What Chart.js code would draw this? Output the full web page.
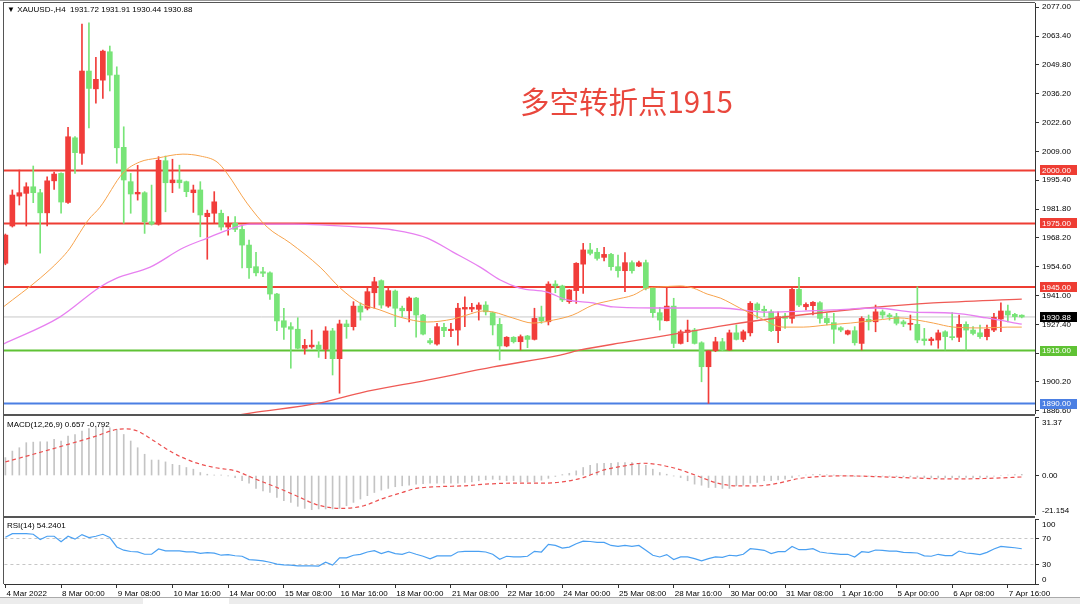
<!DOCTYPE html>
<html lang="zh">
<head>
<meta charset="UTF-8" />
<title>XAUUSD H4</title>
<script src="https://cdn.jsdelivr.net/npm/chart.js"></script>
<style>
  body { margin: 0; background: #fff; width: 1080px; height: 604px; overflow: hidden; position: relative; font-family: "Liberation Sans", Arial, sans-serif; }
  canvas { position: absolute; left: 4px; }
  #mainChart { top: 3px; }
  #macdChart { top: 417px; }
  #rsiChart { top: 519px; }
  .line { position: absolute; background: #555; z-index: 2; }
  .label { position: absolute; font-size: 8px; line-height: 10px; color: #000; white-space: pre; z-index: 3; }
  #note { position: absolute; left: 520px; top: 85px; font-size: 29.5px; line-height: 30px; font-family: "Noto Sans CJK SC", sans-serif; color: #e9473d; white-space: nowrap; }
</style>
</head>
<body>
<canvas id="mainChart" width="1076" height="411"></canvas>
<canvas id="macdChart" width="1076" height="98"></canvas>
<canvas id="rsiChart" width="1076" height="85"></canvas>

<div class="line" style="left:0;top:0;width:1080px;height:1px;background:#999"></div>
<div class="line" style="left:3px;top:2px;width:1032px;height:1px"></div>
<div class="line" style="left:3px;top:2px;width:1px;height:582px"></div>
<div class="line" style="left:3px;top:414px;width:1032px;height:2px"></div>
<div class="line" style="left:3px;top:516px;width:1032px;height:2px"></div>
<div class="line" style="left:0;top:597px;width:1080px;height:1px;background:#aaa"></div>
<div class="line" style="left:0;top:598px;width:1080px;height:6px;background:#ececec"></div>
<div class="line" style="left:143px;top:598px;width:86px;height:6px;background:#fff"></div>

<div class="label" style="left:7px;top:5px">▼ XAUUSD-,H4  1931.72 1931.91 1930.44 1930.88</div>
<div class="label" style="left:7px;top:420px">MACD(12,26,9) 0.657 -0.792</div>
<div class="label" style="left:7px;top:521px">RSI(14) 54.2401</div>
<div id="note">多空转折点1915</div>

<script>
  // H4 candles, bar 0 = 4 Mar 16:00 ... bar 146 = 8 Apr 00:00
  const candleOpen = [1956.2,1973.8,1987.9,1989.2,1992.3,1989.5,1980.0,1995.1,1998.6,1984.9,2015.4,2008.1,2046.9,2038.5,2042.6,2056.0,2045.0,2010.9,1994.7,1988.9,1989.5,1975.8,1974.7,2004.6,1994.2,1995.5,1994.7,1989.5,1990.8,1978.2,1979.8,1979.8,1973.3,1975.1,1972.2,1964.8,1954.6,1952.2,1951.7,1941.7,1929.1,1926.3,1925.1,1916.1,1916.8,1917.6,1915.6,1924.3,1911.2,1927.6,1926.3,1936.0,1935.0,1942.3,1948.0,1936.0,1943.1,1935.0,1933.8,1939.8,1931.8,1919.7,1918.1,1926.0,1924.4,1924.7,1934.6,1934.6,1934.5,1936.5,1932.9,1927.4,1917.2,1921.3,1919.2,1921.9,1920.3,1930.7,1928.6,1946.4,1945.5,1938.1,1943.3,1955.8,1962.5,1961.4,1959.0,1960.4,1954.6,1952.7,1956.5,1954.9,1956.5,1944.4,1932.9,1929.1,1936.0,1918.4,1923.6,1924.7,1918.7,1907.4,1915.0,1919.2,1915.3,1923.4,1920.3,1923.4,1937.0,1934.5,1933.3,1924.4,1931.3,1930.2,1943.9,1935.7,1936.2,1937.6,1930.2,1928.2,1925.8,1922.8,1924.4,1918.4,1929.8,1928.6,1933.3,1931.8,1931.0,1928.6,1927.4,1927.4,1920.5,1919.7,1920.0,1923.9,1921.6,1921.3,1927.4,1924.7,1923.4,1921.6,1924.7,1929.9,1933.7,1932.1,1931.72];
  const candleHigh = [1970.0,1990.8,2000.2,1994.2,2002.1,1991.1,1997.0,1999.2,1998.9,2020.3,2016.0,2069.1,2069.7,2053.4,2056.8,2058.7,2048.9,2020.6,1998.6,2002.4,1990.0,1993.1,2006.5,2006.8,2005.3,2002.5,1995.0,1993.1,1994.7,1981.3,1990.0,1981.3,1978.2,1978.2,1974.2,1967.2,1961.4,1954.3,1952.2,1942.0,1935.0,1928.2,1930.5,1920.3,1924.7,1919.2,1926.3,1925.5,1929.4,1929.4,1938.1,1937.5,1944.4,1949.6,1948.4,1944.4,1943.6,1936.0,1940.4,1940.1,1932.1,1920.8,1927.9,1927.9,1927.9,1937.3,1940.4,1937.3,1937.6,1938.1,1933.2,1930.2,1921.6,1921.6,1922.4,1922.2,1935.0,1936.0,1947.5,1948.0,1945.9,1943.8,1956.5,1965.6,1965.6,1963.3,1963.7,1960.9,1960.1,1961.2,1957.4,1957.3,1957.7,1944.6,1935.4,1945.1,1939.7,1924.7,1929.4,1925.5,1919.2,1915.0,1921.3,1920.8,1924.7,1927.1,1924.7,1938.1,1937.6,1936.0,1934.2,1933.3,1932.6,1944.4,1949.6,1937.6,1938.1,1938.1,1932.6,1932.6,1926.3,1924.7,1926.3,1931.0,1931.8,1936.5,1934.2,1932.6,1932.6,1929.4,1931.8,1945.1,1925.5,1921.3,1924.7,1924.4,1932.9,1931.8,1928.6,1926.3,1927.1,1927.1,1932.6,1937.6,1936.5,1932.6,1931.91];
  const candleLow = [1955.5,1973.3,1983.7,1973.8,1984.8,1961.0,1973.8,1991.1,1979.8,1984.5,1998.6,2002.9,2020.1,2031.7,2034.0,2037.5,2003.4,1975.1,1979.8,1986.0,1970.3,1974.2,1974.2,1980.5,1989.5,1991.6,1987.6,1980.2,1968.7,1958.1,1975.3,1971.9,1969.5,1971.1,1954.0,1949.1,1950.2,1949.9,1939.2,1924.4,1920.3,1906.7,1915.8,1913.3,1916.1,1911.8,1911.2,1903.5,1894.9,1920.8,1924.7,1929.4,1934.2,1935.0,1935.0,1935.4,1926.3,1931.0,1928.6,1921.3,1922.4,1918.1,1917.6,1921.6,1921.6,1917.6,1926.3,1933.3,1929.4,1931.8,1922.4,1910.6,1916.8,1918.6,1915.3,1916.4,1920.0,1927.9,1927.1,1942.3,1938.1,1937.3,1937.3,1942.0,1960.1,1957.7,1957.3,1953.0,1949.6,1942.8,1951.5,1954.6,1943.6,1930.7,1924.7,1929.0,1916.4,1918.1,1919.2,1918.1,1900.3,1890.1,1914.5,1915.0,1915.0,1920.0,1919.2,1921.9,1930.2,1931.0,1923.9,1918.7,1925.5,1927.9,1935.7,1934.2,1931.8,1927.9,1927.1,1918.4,1923.9,1922.4,1917.6,1915.3,1924.7,1923.9,1930.2,1929.4,1927.1,1926.3,1924.7,1918.7,1917.6,1917.6,1916.1,1915.3,1920.0,1919.2,1915.3,1922.4,1920.8,1920.0,1923.9,1923.9,1928.6,1929.4,1930.44];
  const candleClose = [1969.5,1988.4,1989.5,1992.3,1989.5,1980.0,1995.1,1998.3,1985.1,2015.9,2008.4,2046.9,2038.7,2043.0,2056.3,2045.0,2010.7,1995.5,1988.9,1989.7,1975.8,1974.7,2004.8,1994.2,1995.5,1994.2,1990.0,1990.8,1979.0,1979.8,1985.2,1973.3,1974.7,1972.2,1964.8,1954.1,1951.7,1951.5,1941.7,1929.0,1926.0,1925.1,1916.1,1917.5,1917.6,1915.6,1924.3,1911.2,1927.6,1926.3,1936.0,1933.2,1942.8,1947.5,1936.5,1943.3,1935.0,1933.8,1939.8,1931.8,1922.8,1918.7,1926.3,1924.4,1925.1,1935.0,1935.4,1935.4,1936.5,1933.3,1927.1,1917.2,1921.3,1919.2,1921.6,1920.3,1930.2,1929.0,1946.4,1945.5,1938.9,1943.6,1956.2,1962.5,1960.9,1958.5,1960.4,1954.6,1952.7,1956.5,1952.7,1956.5,1944.4,1932.9,1929.4,1936.0,1918.4,1923.9,1924.7,1918.4,1907.4,1914.8,1919.2,1915.3,1923.4,1920.3,1923.9,1937.3,1934.2,1933.8,1924.4,1931.0,1930.2,1943.9,1936.5,1936.8,1937.8,1930.2,1928.2,1925.1,1924.7,1924.4,1918.7,1930.2,1928.6,1933.3,1931.8,1931.0,1927.9,1927.6,1927.9,1920.0,1919.7,1920.5,1923.4,1921.6,1921.1,1927.4,1924.7,1923.1,1921.6,1925.1,1930.7,1933.7,1931.8,1931.0,1930.88];

  // moving averages (bar index, price)
  const maFastBars = [-0.3,5.0,7.8,9.3,10.3,11.9,13.6,16.9,19.3,21.8,25.5,28.0,30.4,31.8,34.7,37.6,40.9,45.2,48.1,50.9,53.8,56.7,60.6,64.3,66.3,68.6,70.1,72.9,75.8,78.7,81.5,84.4,87.3,90.2,92.2,94.0,96.9,98.8,100.8,102.7,105.5,108.4,111.7,114.6,118.0,121.4,125.2,128.5,131.0,133.3,136.2,140.5,143.9,146];
  const maFastVals = [1935.6,1949.2,1957.7,1963.4,1968.6,1976.6,1982.7,1998.8,2004.0,2005.8,2007.7,2006.8,2004.0,1998.8,1984.6,1973.3,1965.8,1954.4,1944.5,1937.5,1934.2,1930.8,1928.5,1929.9,1931.8,1933.7,1933.2,1930.4,1928.0,1929.4,1931.8,1936.5,1938.9,1941.2,1944.5,1945.0,1945.5,1944.5,1941.7,1939.8,1935.1,1930.4,1926.1,1926.1,1927.1,1928.0,1929.4,1930.4,1929.4,1928.0,1926.1,1925.7,1926.1,1926.1];
  const maMidBars = [-0.3,7.8,13.6,16.0,20.8,25.5,29.0,32.7,35.1,41.3,50.9,55.7,60.6,64.3,68.2,71.1,73.9,77.8,80.7,84.4,87.3,94.0,102.7,109.4,119.0,125.2,130.4,136.2,141.0,146];
  const maMidVals = [1918.1,1930.8,1945.0,1949.2,1954.4,1963.4,1968.1,1972.8,1974.7,1974.7,1973.3,1971.9,1968.1,1961.5,1954.4,1948.3,1944.5,1942.6,1938.9,1937.5,1935.6,1935.1,1935.1,1933.2,1934.2,1935.1,1933.2,1932.7,1930.4,1927.5];
  const maSlowBars = [33,35.4,45.2,50.9,60.6,70.1,79.7,82.6,89.3,98.8,102.7,114.2,123.8,133.3,146];
  const maSlowVals = [1884.4,1885.6,1890.3,1895.0,1901.1,1907.3,1912.9,1915.3,1919.1,1924.3,1926.6,1931.8,1935.1,1937.5,1939.3];

  const levelValues = [2000, 1975, 1945, 1915, 1890];
  const levelColors = ['#ee3d33', '#ee3d33', '#ee3d33', '#5fc234', '#4b7fe3'];
  const lastPrice = 1930.88;
  const priceTicks = [2077.00,2063.40,2049.80,2036.20,2022.60,2009.00,1995.40,1981.80,1968.20,1954.60,1941.00,1927.40,1913.80,1900.20,1886.60];

  // MACD main (histogram) per bar, signal sampled
  const macdHist = [9.6,13.1,14.9,17.6,17.9,18.1,18.1,19.4,18.5,21.1,22.0,23.8,25.2,26.5,26.5,25.6,24.7,22.0,18.5,14.9,11.4,8.3,8.3,7.3,6.0,5.5,4.3,3.4,1.6,0.7,0.2,0.2,-0.2,-1.1,-2.8,-4.1,-6.9,-8.2,-9.1,-11.7,-13.5,-14.4,-16.5,-17.6,-18.3,-17.9,-17.9,-17.9,-17.6,-16.2,-14.4,-12.6,-10.8,-9.1,-7.8,-6.9,-6.0,-5.5,-5.2,-4.6,-4.4,-4.1,-4.1,-4.1,-4.1,-4.1,-3.7,-3.4,-2.8,-2.3,-2.0,-2.3,-2.8,-2.8,-3.4,-3.4,-3.4,-2.5,-1.5,-0.5,0.5,1.2,2.5,4.3,5.5,6.4,6.6,6.6,6.9,6.9,6.9,6.6,5.5,3.4,1.6,0.7,-0.2,-1.1,-2.8,-4.6,-5.2,-6.4,-6.4,-6.9,-6.9,-5.5,-5.2,-4.1,-3.7,-2.8,-2.8,-2.3,-2.0,-1.1,-0.2,0.3,0.5,0.6,0.4,0.2,0.0,-0.2,-0.5,-0.3,-0.3,-0.2,-0.3,-0.4,-0.6,-0.7,-0.7,-0.9,-1.1,-1.2,-1.2,-1.2,-1.1,-1.0,-1.0,-1.1,-1.0,-0.9,-0.3,0.0,0.3,0.5,0.66];
  const signalBars = [0,4,9,13,16,17.4,19,21,24,27,30,33,36,39,42,44.5,46.5,48.5,51.5,54,57,59,62,66,69,73,77,80,83,86,89,91.5,93.5,96.4,99.4,102.3,105,108,111,114,117,121,126,131,135.6,140.5,146];
  const signalVals = [7.3,11.4,16.7,21.1,24.7,25.0,23.8,19.4,12.3,7.3,4.3,2.5,-2.0,-6.4,-11.2,-15.3,-17.1,-17.6,-16.2,-12.6,-9.1,-6.9,-6.0,-5.5,-4.6,-4.1,-4.1,-3.4,-1.1,3.0,5.2,6.6,6.0,3.7,-0.2,-4.1,-5.5,-5.5,-4.1,-1.6,-0.5,-0.2,-0.7,-1.4,-1.8,-1.6,-0.79];

  const rsiVals = [72,77.5,77.5,77.5,76.5,68.5,73.5,73.5,65,73.5,69,76,71.5,73.5,76.5,71.5,57,52,50,49.4,45.8,45.8,54,51,51,50.9,49.4,49.4,47,48.4,47.5,44.3,45.3,43.5,42.7,37.6,36.6,35.6,33.5,30.5,29.5,29,28,28,28,27.5,33.5,29,40.1,40.1,44.2,45.7,49.2,51.3,46.7,50.2,46.7,45.7,49.2,45.7,42.7,38.6,43.2,43.2,43.2,49.2,50.2,50.2,50.2,49.2,45.7,38.1,42.7,41.6,41.6,42.7,50.2,49.2,60.9,59.3,55.3,56.8,61.9,65.9,65.4,63.9,63.9,59.3,57.8,59.3,57.8,59.3,51.8,44.2,41.6,45.2,37.6,41.6,41.6,39.1,35.6,39.1,41.6,41.1,44.2,43.2,45.7,54.3,53.3,51.8,46.7,49.7,49.7,57.8,52.8,52.8,54.3,49.2,47.7,46.7,45.7,45.7,41.6,49.7,48.7,52.3,51.8,50.7,50.7,48.7,48.2,47.7,43.2,42.7,45.7,43.7,43.7,50.7,47.7,46.7,45.2,48.7,53.8,57.8,56.8,55.8,54.24];
  const rsiLevels = [70, 30];

  const timeLabels = ['4 Mar 2022','8 Mar 00:00','9 Mar 08:00','10 Mar 16:00','14 Mar 00:00','15 Mar 08:00','16 Mar 16:00','18 Mar 00:00','21 Mar 08:00','22 Mar 16:00','24 Mar 00:00','25 Mar 08:00','28 Mar 16:00','30 Mar 00:00','31 Mar 08:00','1 Apr 16:00','5 Apr 00:00','6 Apr 08:00','7 Apr 16:00'];
  const timeLabelBars = [0,8,16,24,32,40,48,56,64,72,80,88,96,104,112,120,128,136,144];

  Chart.defaults.font.family = '"Liberation Sans", Arial, sans-serif';
  Chart.defaults.font.size = 8;
  Chart.defaults.color = '#000';

  const upColor = '#f13d3a';
  const downColor = '#78e478';
  const bars = candleOpen.map((_, i) => i);
  const candleColor = c => candleClose[c.dataIndex] >= candleOpen[c.dataIndex] ? upColor : downColor;
  const pairs = (xs, ys) => xs.map((x, i) => ({ x: x, y: ys[i] }));
  const hline = (v, color, width, dash) => ({
    type: 'line', data: [{ x: -1, y: v }, { x: 149, y: v }], borderColor: color,
    borderWidth: width, borderDash: dash || [], pointRadius: 0, order: 10
  });

  // kill the label overflow padding so all three panels share one plot width
  function fixAxis(width, height) {
    return s => {
      s.paddingTop = 0; s.paddingBottom = 0; s.paddingLeft = 0; s.paddingRight = 0;
      if (width) s.width = width;
      if (height) s.height = height;
    };
  }

  function xAxis(show) {
    return {
      type: 'linear', min: -0.2, max: 147.9, offset: false, display: show,
      afterBuildTicks: s => { s.ticks = timeLabelBars.map(v => ({ value: v })); },
      grid: { drawOnChartArea: false, tickLength: 4, color: '#333' },
      border: { color: '#333' },
      ticks: { autoSkip: false, maxRotation: 0, align: 'start', padding: 1, labelOffset: 1,
        callback: (v, i) => timeLabels[i] },
      afterFit: show ? fixAxis(0, 20) : fixAxis(0, 0)
    };
  }

  function yAxis(min, max, tickVals, showLabels) {
    return {
      position: 'right', min: min, max: max,
      afterBuildTicks: s => { s.ticks = tickVals.map(v => ({ value: v })); },
      grid: { drawOnChartArea: false, tickLength: 4, color: '#333' },
      border: { color: '#333' },
      ticks: { display: showLabels, padding: 3, callback: v => v.toFixed(2) },
      afterFit: fixAxis(45, 0)
    };
  }

  // price boxes and clamped side labels
  const sideLabels = {
    id: 'sideLabels',
    afterDraw(chart, args, opts) {
      const ctx = chart.ctx, y = chart.scales.y, area = chart.chartArea;
      ctx.save();
      ctx.font = '8px "Liberation Sans", Arial, sans-serif';
      ctx.textBaseline = 'middle';
      (opts.items || []).forEach(it => {
        let py = y.getPixelForValue(it.value);
        py = Math.min(Math.max(py, area.top + 5), area.bottom - 5);
        const x = area.right + 7;
        if (it.bg) {
          ctx.fillStyle = it.bg;
          ctx.fillRect(x - 2, Math.round(py) - 5, 37, 10);
        }
        ctx.fillStyle = it.fg || '#000';
        ctx.fillText(it.text, x, py + 0.5);
      });
      ctx.restore();
    }
  };

  const common = { responsive: false, animation: false, devicePixelRatio: 1, layout: { padding: 0 },
    events: [] };

  new Chart(document.getElementById('mainChart'), {
    type: 'bar',
    data: {
      datasets: [
        ...levelValues.map((v, k) => hline(v, levelColors[k], 2)),
        hline(lastPrice, '#c8c8c8', 1),
        { type: 'bar', data: bars.map(i => ({ x: i, y: [candleLow[i], candleHigh[i]] })),
          backgroundColor: candleColor, barThickness: 1, grouped: false, order: 4 },
        { type: 'bar', data: bars.map(i => ({ x: i, y: [candleOpen[i], candleClose[i]] })),
          backgroundColor: candleColor, barThickness: 5, minBarLength: 1, grouped: false, order: 3 },
        { type: 'line', data: pairs(maSlowBars, maSlowVals), borderColor: '#ef5a55', borderWidth: 1.3,
          pointRadius: 0, cubicInterpolationMode: 'monotone', order: 2 },
        { type: 'line', data: pairs(maMidBars, maMidVals), borderColor: '#e780f0', borderWidth: 1.3,
          pointRadius: 0, cubicInterpolationMode: 'monotone', order: 1 },
        { type: 'line', data: pairs(maFastBars, maFastVals), borderColor: '#f7a34c', borderWidth: 1,
          pointRadius: 0, cubicInterpolationMode: 'monotone', order: 0 }
      ]
    },
    options: {
      ...common,
      plugins: { legend: { display: false }, tooltip: { enabled: false },
        sideLabels: { items: [
          ...levelValues.map((v, k) => ({ value: v, text: v.toFixed(2), bg: levelColors[k], fg: '#fff' })),
          { value: lastPrice, text: lastPrice.toFixed(2), bg: '#000', fg: '#fff' }
        ] } },
      scales: { x: xAxis(false), y: yAxis(1885.1, 2079.0, priceTicks, true) }
    },
    plugins: [sideLabels]
  });

  new Chart(document.getElementById('macdChart'), {
    type: 'bar',
    data: {
      datasets: [
        { type: 'bar', data: bars.map(i => ({ x: i, y: macdHist[i] })), backgroundColor: '#c4c4c4',
          barThickness: 1, grouped: false, order: 2 },
        { type: 'line', data: pairs(signalBars, signalVals), borderColor: '#ec5050', borderWidth: 1.2,
          borderDash: [4, 3], pointRadius: 0, cubicInterpolationMode: 'monotone', order: 1 }
      ]
    },
    options: {
      ...common,
      plugins: { legend: { display: false }, tooltip: { enabled: false },
        sideLabels: { items: [
          { value: 31.37, text: '31.37' }, { value: 0, text: '0.00' }, { value: -21.154, text: '-21.154' }
        ] } },
      scales: { x: xAxis(false), y: yAxis(-21.154, 31.37, [31.37, 0, -21.154], false) }
    },
    plugins: [sideLabels]
  });

  new Chart(document.getElementById('rsiChart'), {
    type: 'line',
    data: {
      datasets: [
        ...rsiLevels.map(v => hline(v, '#c6c6c6', 1, [3, 3])),
        { data: pairs(bars, rsiVals), borderColor: '#4aa0f2', borderWidth: 1.2, pointRadius: 0,
          tension: 0, order: 1 }
      ]
    },
    options: {
      ...common,
      plugins: { legend: { display: false }, tooltip: { enabled: false },
        sideLabels: { items: [
          { value: 100, text: '100' }, { value: 70, text: '70' }, { value: 30, text: '30' }, { value: 0, text: '0' }
        ] } },
      scales: { x: xAxis(true), y: yAxis(0, 100, [100, 70, 30, 0], false) }
    },
    plugins: [sideLabels]
  });
</script>
</body>
</html>
